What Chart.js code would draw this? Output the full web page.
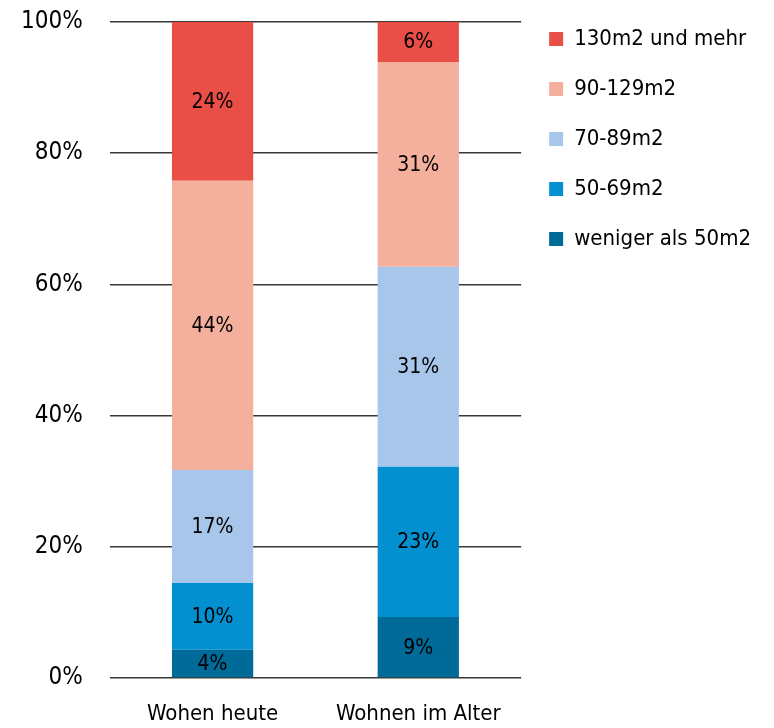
<!DOCTYPE html>
<html>
<head>
<meta charset="utf-8">
<script src="https://cdn.jsdelivr.net/npm/chart.js@4"></script>
<style>
	html, body { margin: 0; padding: 0; background: #fff; }
	#wrap { width: 774px; height: 728px; }
</style>
</head>
<body>
<div id="wrap"><canvas id="chart"></canvas></div>
<script>
// Werte (Anteile in %)
const categories = ["Wohen heute", "Wohnen im Alter"];
const under50 = [4.3, 9.3];
const m50to69 = [10.2, 22.9];
const m70to89 = [17.2, 30.5];
const m90to129 = [44.1, 31.2];
const m130plus = [24.2, 6.1];
const yTicks = [0, 20, 40, 60, 80, 100];

const cond = "'DejaVu Sans Condensed', 'DejaVu Sans', sans-serif";

// Beschriftung in der Mitte jedes Segments
const segmentLabels = {
	id: "segmentLabels",
	afterDatasetsDraw(chart) {
		const ctx = chart.ctx;
		ctx.save();
		ctx.font = "21px " + cond;
		ctx.fillStyle = "#000";
		ctx.textAlign = "center";
		ctx.textBaseline = "middle";
		chart.data.datasets.forEach((ds, i) => {
			const meta = chart.getDatasetMeta(i);
			meta.data.forEach((bar, j) => {
				const v = ds.data[j];
				ctx.fillText(Math.round(v) + "%", bar.x, (bar.y + bar.base) / 2 + 1);
			});
		});
		ctx.restore();
	}
};

new Chart(document.getElementById("chart"), {
	type: "bar",
	data: {
		labels: categories,
		datasets: [
			{ label: "weniger als 50m2", data: under50, backgroundColor: "#006a99" },
			{ label: "50-69m2", data: m50to69, backgroundColor: "#0390d0" },
			{ label: "70-89m2", data: m70to89, backgroundColor: "#a7c6ea" },
			{ label: "90-129m2", data: m90to129, backgroundColor: "#f4b09d" },
			{ label: "130m2 und mehr", data: m130plus, backgroundColor: "#e94f46" }
		]
	},
	options: {
		responsive: true,
		maintainAspectRatio: false,
		animation: false,
		layout: { padding: { top: 0, left: 21, bottom: 0, right: 13 } },
		datasets: { bar: { barPercentage: 0.395, categoryPercentage: 1 } },
		plugins: {
			tooltip: { enabled: false },
			legend: {
				position: "right",
				align: "start",
				reverse: true,
				maxWidth: 240,
				labels: {
					boxWidth: 14,
					boxHeight: 14,
					padding: 28,
					color: "#000",
					font: { family: cond, size: 22 }
				}
			}
		},
		scales: {
			x: {
				stacked: true,
				grid: { display: false, drawTicks: false },
				border: { display: false },
				afterFit: axis => { axis.height = 50; },
				ticks: { color: "#000", padding: 23, font: { family: cond, size: 22 } }
			},
			y: {
				stacked: true,
				min: 0,
				max: 100,
				afterBuildTicks: axis => { axis.ticks = yTicks.map(v => ({ value: v })); },
				afterFit: axis => {
					axis.width -= 27;
					axis.paddingTop = 22;
					axis.paddingBottom = 0;
				},
				grid: { color: "#383838", lineWidth: 1.6, drawTicks: false },
				border: { display: false },
				ticks: {
					color: "#000",
					padding: 27,
					font: { family: cond, size: 24 },
					callback: v => v + "%"
				}
			}
		}
	},
	plugins: [segmentLabels]
});
</script>
</body>
</html>
